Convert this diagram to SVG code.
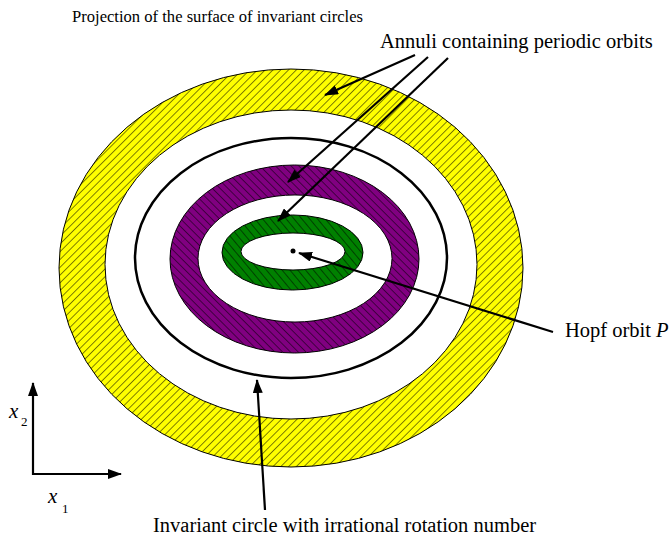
<svg xmlns="http://www.w3.org/2000/svg" width="670" height="539" viewBox="0 0 670 539">
<style>
.t{font-family:"Liberation Serif","Times New Roman",serif;font-size:20.5px;fill:#000}
.h{font-family:"Liberation Serif","Times New Roman",serif;font-size:17.5px;fill:#000}
.x{font-family:"Liberation Serif","Times New Roman",serif;font-size:21px;font-style:italic;fill:#000}
.s{font-family:"Liberation Serif","Times New Roman",serif;font-size:13px;fill:#000}
.ring{stroke:#000;stroke-width:1;fill-rule:evenodd}
.c{stroke:#000;stroke-width:2.2;fill:none}
</style>
<defs>
<pattern id="hy" patternUnits="userSpaceOnUse" width="5.5" height="5" patternTransform="rotate(45)">
<rect width="5.5" height="5" fill="#ffff00"/><line x1="0" y1="0" x2="0" y2="5" stroke="#000" stroke-width="1"/>
</pattern>
<pattern id="hp" patternUnits="userSpaceOnUse" width="5.5" height="5" patternTransform="rotate(-45)">
<rect width="5.5" height="5" fill="#800080"/><line x1="0" y1="0" x2="0" y2="5" stroke="#000" stroke-width="1"/>
</pattern>
<pattern id="hg" patternUnits="userSpaceOnUse" width="6" height="5" patternTransform="rotate(-40)">
<rect width="6" height="5" fill="#008000"/><line x1="0" y1="0" x2="0" y2="5" stroke="#000" stroke-width="1"/>
</pattern>
<marker id="ah" markerUnits="userSpaceOnUse" markerWidth="14" markerHeight="10" refX="13" refY="5" orient="auto">
<path d="M0,0 L14,5 L0,10 Z" fill="#000"/>
</marker>
</defs>
<text class="h" x="72" y="22" textLength="291" lengthAdjust="spacingAndGlyphs">Projection of the surface of invariant circles</text>
<g id="yellow-annulus">
<path class="ring" fill="url(#hy)" d="M59,268 a232,199 0 1,0 464,0 a232,199 0 1,0 -464,0 Z M105,264.5 a186,154.5 0 1,0 372,0 a186,154.5 0 1,0 -372,0 Z"/>
</g>
<g id="invariant-circle">
<ellipse cx="291" cy="258" rx="156" ry="120" fill="none" stroke="#000" stroke-width="2.5"/>
</g>
<g id="purple-annulus">
<path class="ring" fill="url(#hp)" d="M170,259 a124.5,94 0 1,0 249,0 a124.5,94 0 1,0 -249,0 Z M198,258.5 a97,63.5 0 1,0 194,0 a97,63.5 0 1,0 -194,0 Z"/>
</g>
<g id="green-annulus">
<path class="ring" fill="url(#hg)" d="M222,252.5 a70.5,37.5 0 1,0 141,0 a70.5,37.5 0 1,0 -141,0 Z M241,251.5 a52,18.5 0 1,0 104,0 a52,18.5 0 1,0 -104,0 Z"/>
</g>
<g id="hopf-orbit">
<circle cx="293" cy="251" r="2.5" fill="#000"/>
</g>
<g id="axes">
<line class="c" x1="33" y1="475" x2="33" y2="383" marker-end="url(#ah)"/>
<line class="c" x1="32" y1="474" x2="121" y2="474" marker-end="url(#ah)"/>
<text class="x" x="9" y="418">x</text><text class="s" x="21" y="426">2</text>
<text class="x" x="48" y="503">x</text><text class="s" x="62" y="513">1</text>
</g>
<g id="connectors">
<line class="c" x1="415" y1="55" x2="325" y2="95" marker-end="url(#ah)"/>
<line class="c" x1="428" y1="57" x2="288" y2="182" marker-end="url(#ah)"/>
<line class="c" x1="448" y1="58" x2="278" y2="221" marker-end="url(#ah)"/>
<line class="c" x1="553" y1="332" x2="299" y2="253" marker-end="url(#ah)"/>
<line class="c" x1="265" y1="510" x2="257" y2="380" marker-end="url(#ah)"/>
</g>
<g id="labels">
<text class="t" x="380" y="48">Annuli containing periodic orbits</text>
<text class="t" x="565" y="337">Hopf orbit <tspan font-style="italic">P</tspan></text>
<text class="t" x="153" y="532">Invariant circle with irrational rotation number</text>
</g>
</svg>
